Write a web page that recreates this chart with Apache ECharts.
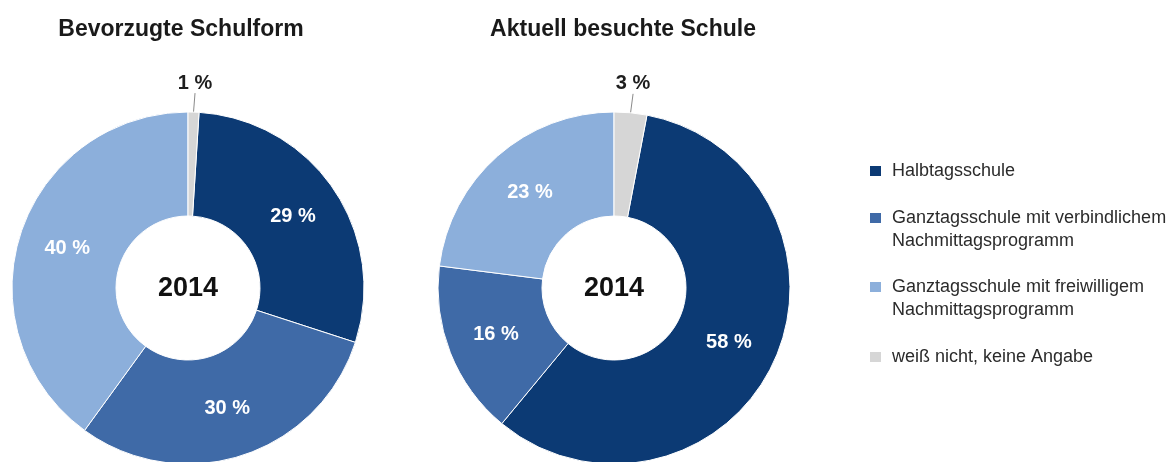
<!DOCTYPE html>
<html>
<head>
<meta charset="utf-8">
<script src="https://cdn.jsdelivr.net/npm/echarts@6/dist/echarts.min.js"></script>
<style>
html,body{margin:0;padding:0;background:#fff;}
#c{width:1172px;height:462px;}
</style>
</head>
<body>
<div id="c"></div>
<script>
const categories = [
  'Halbtagsschule',
  'Ganztagsschule mit verbindlichem Nachmittagsprogramm',
  'Ganztagsschule mit freiwilligem Nachmittagsprogramm',
  'weiß nicht, keine Angabe'
];
const preferredValues = [29, 30, 40, 1];
const currentValues = [58, 16, 23, 3];
const chartTitles = ['Bevorzugte Schulform', 'Aktuell besuchte Schule'];
const centerLabel = '2014';
const colors = ['#0c3a74', '#3f6aa7', '#8cafdb', '#d6d6d6'];

const FONT = "'Liberation Sans', Arial, sans-serif";
const chart = echarts.init(document.getElementById('c'), null, {renderer: 'canvas'});

function buildData(values) {
  return values.map((v, i) => {
    const d = {name: categories[i], value: v, itemStyle: {color: colors[i]}};
    if (i === 3) {
      d.label = {position: 'outside', color: '#1e1e1e'};
      d.labelLine = {show: true, length: 16, length2: 0, lineStyle: {color: '#8a8a8a', width: 1}};
    }
    return d;
  });
}

function buildSeries(values, center) {
  const total = values.reduce((a, b) => a + b, 0);
  const last = values[values.length - 1];
  return {
    type: 'pie',
    center: center,
    radius: [72, 176],
    startAngle: 90 - last / total * 360,
    clockwise: true,
    avoidLabelOverlap: false,
    silent: true,
    itemStyle: {borderColor: '#ffffff', borderWidth: 1},
    label: {
      show: true,
      position: 'inside',
      formatter: '{c} %',
      color: '#ffffff',
      fontFamily: FONT,
      fontWeight: 'bold',
      fontSize: 20
    },
    labelLine: {show: false},
    labelLayout: function (p) {
      if (p.dataIndex !== 3 || !p.labelLinePoints) return {};
      const end = p.labelLinePoints[p.labelLinePoints.length - 1];
      return {x: end[0] + 1, y: end[1] - 3, align: 'center', verticalAlign: 'bottom'};
    },
    data: buildData(values)
  };
}

function legendName(name) {
  const idx = name.indexOf(' Nachmittagsprogramm');
  if (idx < 0) return name;
  return '\n' + name.slice(0, idx) + '\n' + name.slice(idx + 1);
}

const legendTops = [159.5, 183.5, 252.5, 345.5];
const legends = categories.map((c, i) => ({
  data: [c],
  left: 868,
  top: legendTops[i],
  padding: 0,
  orient: 'vertical',
  itemWidth: 13,
  itemHeight: 12,
  icon: 'rect',
  selectedMode: false,
  formatter: legendName,
  textStyle: {fontFamily: FONT, fontSize: 18, color: '#2b2b2b', lineHeight: 23, padding: [0, 0, 0, 5]}
}));

chart.setOption({
  animation: false,
  backgroundColor: '#ffffff',
  title: [
    {text: chartTitles[0], left: 176, top: 13, textAlign: 'center',
     textStyle: {fontFamily: FONT, fontWeight: 'bold', fontSize: 23, color: '#1a1a1a'}},
    {text: chartTitles[1], left: 618, top: 13, textAlign: 'center',
     textStyle: {fontFamily: FONT, fontWeight: 'bold', fontSize: 23, color: '#1a1a1a'}}
  ],
  legend: legends,
  graphic: [
    {type: 'text', x: 188, y: 289, style: {text: centerLabel, fontFamily: FONT, fontWeight: 'bold', fontSize: 27, fill: '#111', align: 'center', verticalAlign: 'middle'}},
    {type: 'text', x: 614, y: 289, style: {text: centerLabel, fontFamily: FONT, fontWeight: 'bold', fontSize: 27, fill: '#111', align: 'center', verticalAlign: 'middle'}}
  ],
  series: [
    buildSeries(preferredValues, [188, 288]),
    buildSeries(currentValues, [614, 288])
  ]
});
</script>
</body>
</html>
